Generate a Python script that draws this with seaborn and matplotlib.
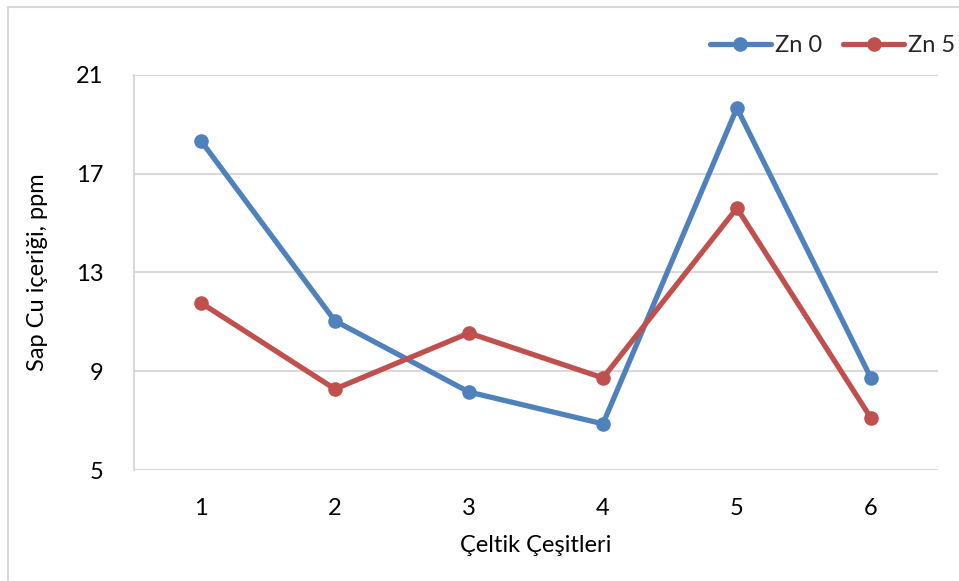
import matplotlib
matplotlib.use("Agg")
import matplotlib.pyplot as plt
from matplotlib.lines import Line2D
import seaborn as sns
import pandas as pd

# Rice varieties and stem Cu content (ppm) for two Zn doses
varieties = [1, 2, 3, 4, 5, 6]
zn0 = [18.33, 11.04, 8.16, 6.87, 19.66, 8.73]
zn5 = [11.77, 8.28, 10.55, 8.73, 15.61, 7.11]
series_names = ["Zn 0", "Zn 5"]
y_ticks = [5, 9, 13, 17, 21]

df = pd.DataFrame({
    "Çeşit": varieties * 2,
    "Cu": zn0 + zn5,
    "Doz": [series_names[0]] * len(varieties) + [series_names[1]] * len(varieties),
})

sns.set_theme(style="white")
plt.rcParams["font.family"] = ["Lato", "DejaVu Sans"]

fig = plt.figure(figsize=(9.59, 5.81), dpi=100)
ax = fig.add_axes([0.1397, 0.191, 0.8383, 0.680])

palette = {"Zn 0": "#4F81BD", "Zn 5": "#C0504D"}
sns.lineplot(data=df, x="Çeşit", y="Cu", hue="Doz", palette=palette,
             marker="o", markersize=10.5, markeredgewidth=0, linewidth=3.8,
             ax=ax, legend=False)

ax.set_xlim(0.5, 6.5)
ax.set_ylim(5, 21)
ax.set_xticks(varieties)
ax.set_yticks(y_ticks)
ax.tick_params(axis="both", length=0, labelsize=17, colors="#000000")
ax.tick_params(axis="y", pad=22)
ax.tick_params(axis="x", pad=20)
ax.yaxis.grid(True, color="#D9D9D9", linewidth=1.5)
ax.set_axisbelow(True)
for side in ["top", "right", "bottom"]:
    ax.spines[side].set_visible(False)
ax.spines["left"].set_color("#D9D9D9")
ax.spines["left"].set_linewidth(1.5)

ax.set_xlabel("Çeltik Çeşitleri", fontsize=17, labelpad=12, color="#000000")
ax.set_ylabel("Sap Cu içeriği, ppm", fontsize=17, labelpad=20, color="#000000")

handles = [Line2D([0], [0], color=palette[n], linewidth=3.8, marker="o",
                  markersize=10.5, markeredgewidth=0) for n in series_names]
fig.legend(handles, series_names, loc="center right", bbox_to_anchor=(1.018, 0.921),
           ncol=2, frameon=False, fontsize=17, handlelength=2.6,
           columnspacing=0.9, handletextpad=0.15)

# chart-area border (left and top edges)
fig.add_artist(Line2D([8 / 959, 8 / 959], [0, 1 - 7 / 581], transform=fig.transFigure,
                      color="#D9D9D9", linewidth=1.5))
fig.add_artist(Line2D([8 / 959, 1], [1 - 7 / 581, 1 - 7 / 581], transform=fig.transFigure,
                      color="#D9D9D9", linewidth=1.5))

fig.savefig("out.png", dpi=100, facecolor="white")
